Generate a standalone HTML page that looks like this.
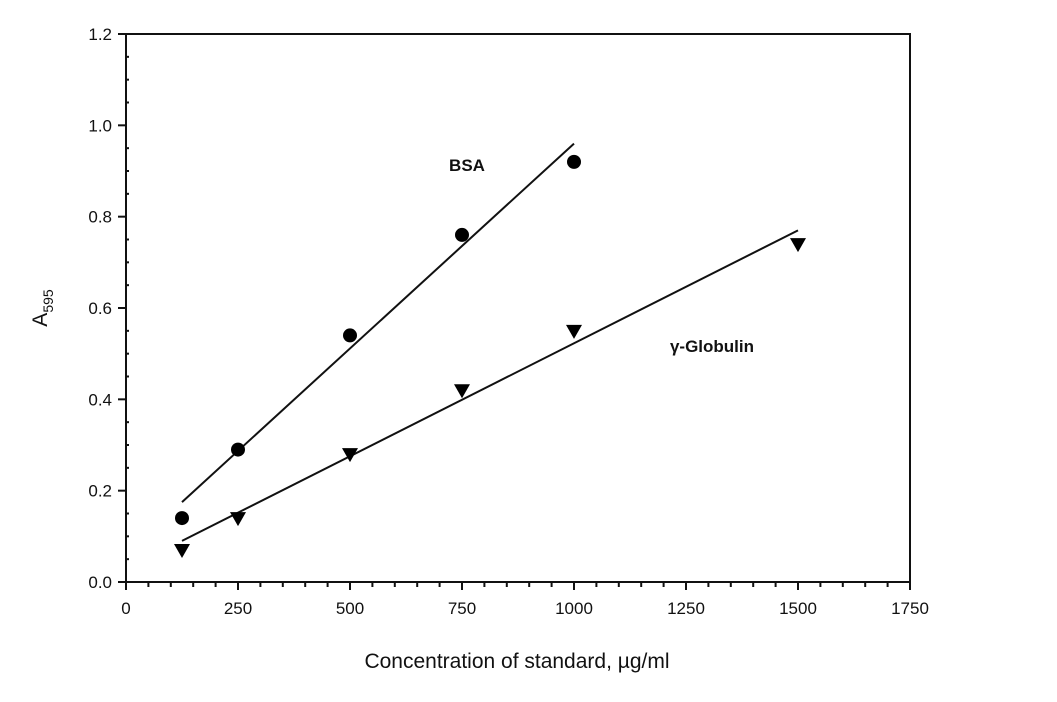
<!DOCTYPE html>
<html><head><meta charset="utf-8"><style>
body{margin:0;background:#fff;width:1057px;height:697px;overflow:hidden}
svg text{font-family:"Liberation Sans",sans-serif;fill:#111}
</style></head><body>
<svg id="chart" width="1057" height="697" viewBox="0 0 1057 697" xmlns="http://www.w3.org/2000/svg">
<g id="axes"></g>
<g id="marks"></g>
<text x="467" y="171" font-size="17" font-weight="bold" text-anchor="middle">BSA</text>
<text x="712" y="352" font-size="17" font-weight="bold" text-anchor="middle">γ-Globulin</text>
<text x="517" y="668" font-size="21" text-anchor="middle">Concentration of standard, µg/ml</text>
<text transform="translate(47,308) rotate(-90)" font-size="21" text-anchor="middle">A<tspan font-size="14" dy="6">595</tspan></text>
</svg>
<script>
const xTicks=[0,250,500,750,1000,1250,1500,1750];
const yTicks=[0.0,0.2,0.4,0.6,0.8,1.0,1.2];
const bsaX=[125,250,500,750,1000];
const bsaY=[0.14,0.29,0.54,0.76,0.92];
const gloX=[125,250,500,750,1000,1500];
const gloY=[0.07,0.14,0.28,0.42,0.55,0.74];
const bsaFitX=[125,1000];
const bsaFitY=[0.175,0.96];
const gloFitX=[125,1500];
const gloFitY=[0.09,0.77];
const L=126,R=910,T=34,B=582;
const sx=v=>L+(v/1750)*(R-L);
const sy=v=>B-(v/1.2)*(B-T);
const NS="http://www.w3.org/2000/svg";
function mk(tag,attrs,parent){const e=document.createElementNS(NS,tag);for(const k in attrs)e.setAttribute(k,attrs[k]);parent.appendChild(e);return e;}
const ax=document.getElementById('axes'),mg=document.getElementById('marks');
let f=mk('rect',{x:L,y:T,width:R-L,height:B-T,fill:'none',stroke:'#111','stroke-width':2},ax);


for(let v=0;v<=1750;v+=50){const major=v%250===0;
 let t=mk('line',{x1:sx(v),x2:sx(v),y1:B,y2:B+(major?8:5),stroke:'#111','stroke-width':2},ax);
 
 }
xTicks.forEach(v=>{let t=mk('text',{x:sx(v),y:B+32,'font-size':17,'text-anchor':'middle'},ax);t.textContent=v;
 
 });
for(let i=0;i<=24;i++){const v=i*0.05,major=i%4===0;
 let t=mk('line',{x1:major?L-8:L,x2:L+(major?0:3),y1:sy(v),y2:sy(v),stroke:'#111','stroke-width':2},ax);
 
 }
yTicks.forEach(v=>{let t=mk('text',{x:L-14,y:sy(v)+6,'font-size':17,'text-anchor':'end'},ax);t.textContent=v.toFixed(1);
 
 });
let l1=mk('line',{x1:sx(bsaFitX[0]),y1:sy(bsaFitY[0]),x2:sx(bsaFitX[1]),y2:sy(bsaFitY[1]),stroke:'#111','stroke-width':2},mg);


let l2=mk('line',{x1:sx(gloFitX[0]),y1:sy(gloFitY[0]),x2:sx(gloFitX[1]),y2:sy(gloFitY[1]),stroke:'#111','stroke-width':2},mg);


bsaX.forEach((x,i)=>{let c=mk('circle',{cx:sx(x),cy:sy(bsaY[i]),r:7,fill:'#000'},mg);
 
 });
gloX.forEach((x,i)=>{const cx=sx(x),cy=sy(gloY[i]);
 let p=mk('polygon',{points:`${cx-8},${cy-6} ${cx+8},${cy-6} ${cx},${cy+8}`,fill:'#000'},mg);
 
 });
</script>
</body></html>
